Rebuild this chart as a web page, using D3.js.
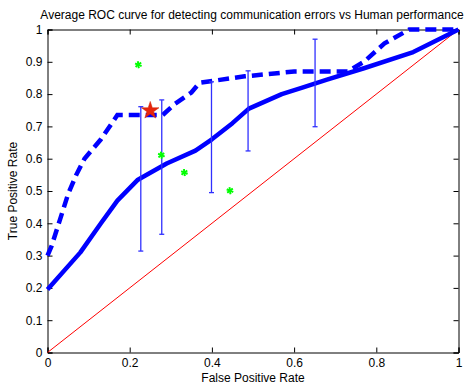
<!DOCTYPE html>
<html>
<head>
<meta charset="utf-8">
<script src="https://cdn.jsdelivr.net/npm/d3@7"></script>
<style>
  body { margin: 0; background: #fff; }
  svg { display: block; font-family: "Liberation Sans", Arial, sans-serif; }
</style>
</head>
<body>
<svg id="chart" width="475" height="384"></svg>
<script>
// mean ROC of the classifier
const meanFpr = [0, 0.08, 0.13, 0.17, 0.22, 0.29, 0.36, 0.40, 0.45, 0.49, 0.57, 0.62, 0.68, 0.77, 0.89, 1];
const meanTpr = [0.195, 0.31, 0.40, 0.47, 0.535, 0.585, 0.625, 0.66, 0.71, 0.755, 0.80, 0.82, 0.845, 0.88, 0.93, 1];

// upper (dashed) ROC
const upperFpr = [0, 0.01, 0.03, 0.05, 0.07, 0.09, 0.13, 0.17, 0.28, 0.31, 0.35, 0.37, 0.48, 0.60, 0.73, 0.77, 0.82, 0.88, 1];
const upperTpr = [0.30, 0.33, 0.41, 0.49, 0.55, 0.60, 0.66, 0.735, 0.735, 0.77, 0.805, 0.835, 0.855, 0.87, 0.87, 0.90, 0.957, 1, 1];

// error bars (low / high)
const barFpr = [0.227, 0.278, 0.399, 0.488, 0.651];
const barLow = [0.314, 0.366, 0.495, 0.624, 0.699];
const barHigh = [0.761, 0.782, 0.838, 0.872, 0.970];

// individual humans
const humanFpr = [0.221, 0.277, 0.333, 0.444];
const humanTpr = [0.891, 0.611, 0.557, 0.501];

// average human
const avgHumanFpr = [0.25];
const avgHumanTpr = [0.752];

const xTicks = [0, 0.2, 0.4, 0.6, 0.8, 1];
const yTicks = [0, 0.1, 0.2, 0.3, 0.4, 0.5, 0.6, 0.7, 0.8, 0.9, 1];

const svg = d3.select("#chart");
const x = d3.scaleLinear().domain([0, 1]).range([47.5, 458.5]);
const y = d3.scaleLinear().domain([0, 1]).range([352.5, 29.5]);

const fmt = d => d === 0 || d === 1 ? String(d) : d3.format(".1f")(d);

// axes with inward ticks
svg.append("g").attr("transform", `translate(0,${y(0)})`)
  .call(d3.axisBottom(x).tickValues(xTicks).tickSize(-5).tickPadding(6).tickFormat(fmt))
  .call(g => g.selectAll("text").attr("font-size", 12).attr("fill", "#000"));
svg.append("g").attr("transform", `translate(${x(0)},0)`)
  .call(d3.axisLeft(y).tickValues(yTicks).tickSize(-5).tickPadding(5).tickFormat(fmt))
  .call(g => g.selectAll("text").attr("font-size", 12).attr("fill", "#000"));
svg.append("g").attr("transform", `translate(0,${y(1)})`)
  .call(d3.axisTop(x).tickValues(xTicks).tickSize(-5).tickFormat(""));
svg.append("g").attr("transform", `translate(${x(1)},0)`)
  .call(d3.axisRight(y).tickValues(yTicks).tickSize(-5).tickFormat(""));
svg.selectAll(".domain, .tick line").attr("stroke", "#000");

const plot = svg.append("g");

// chance line
plot.append("line")
  .attr("x1", x(0)).attr("y1", y(0)).attr("x2", x(1)).attr("y2", y(1))
  .attr("stroke", "#ff0000").attr("stroke-width", 1);

const line = d3.line().x(d => x(d[0])).y(d => y(d[1]));

plot.append("path")
  .datum(d3.zip(meanFpr, meanTpr))
  .attr("d", line)
  .attr("fill", "none").attr("stroke", "#0000ff").attr("stroke-width", 4.5)
  .attr("stroke-linejoin", "round");

plot.append("path")
  .datum(d3.zip(upperFpr, upperTpr))
  .attr("d", line)
  .attr("fill", "none").attr("stroke", "#0000ff").attr("stroke-width", 4.5)
  .attr("stroke-dasharray", "11,6");

// error bars
const bars = plot.selectAll(".ebar").data(d3.zip(barFpr, barLow, barHigh)).join("g")
  .attr("stroke", "#3030ff").attr("stroke-width", 1.3);
bars.append("line")
  .attr("x1", d => x(d[0])).attr("x2", d => x(d[0]))
  .attr("y1", d => y(d[1])).attr("y2", d => y(d[2]));
bars.append("line")
  .attr("x1", d => x(d[0]) - 2.5).attr("x2", d => x(d[0]) + 2.5)
  .attr("y1", d => y(d[1])).attr("y2", d => y(d[1]));
bars.append("line")
  .attr("x1", d => x(d[0]) - 2.5).attr("x2", d => x(d[0]) + 2.5)
  .attr("y1", d => y(d[2])).attr("y2", d => y(d[2]));

// green asterisks
const ast = d3.symbol().type(d3.symbolAsterisk).size(34);
plot.selectAll(".human").data(d3.zip(humanFpr, humanTpr)).join("path")
  .attr("transform", d => `translate(${x(d[0])},${y(d[1])})`)
  .attr("d", ast)
  .attr("fill", "none").attr("stroke", "#00ff00").attr("stroke-width", 1.3);
plot.selectAll(".human2").data(d3.zip(humanFpr, humanTpr)).join("path")
  .attr("transform", d => `translate(${x(d[0])},${y(d[1])}) rotate(45)`)
  .attr("d", ast)
  .attr("fill", "none").attr("stroke", "#00ff00").attr("stroke-width", 1.3);

// red star (average human)
plot.selectAll(".avg").data(d3.zip(avgHumanFpr, avgHumanTpr)).join("path")
  .attr("transform", d => `translate(${x(d[0])},${y(d[1]) + 1})`)
  .attr("d", d3.symbol().type(d3.symbolStar).size(95))
  .attr("fill", "#e8250c").attr("stroke", "#cc2000").attr("stroke-width", 0.5);

// labels
svg.append("text").attr("x", 252).attr("y", 18.5).attr("text-anchor", "middle")
  .attr("font-size", 12).text("Average ROC curve for detecting communication errors vs Human performance");
svg.append("text").attr("x", 253).attr("y", 382).attr("text-anchor", "middle")
  .attr("font-size", 12).text("False Positive Rate");
svg.append("text").attr("transform", `translate(17,${y(0.5)}) rotate(-90)`)
  .attr("text-anchor", "middle").attr("font-size", 12).text("True Positive Rate");
</script>
</body>
</html>
